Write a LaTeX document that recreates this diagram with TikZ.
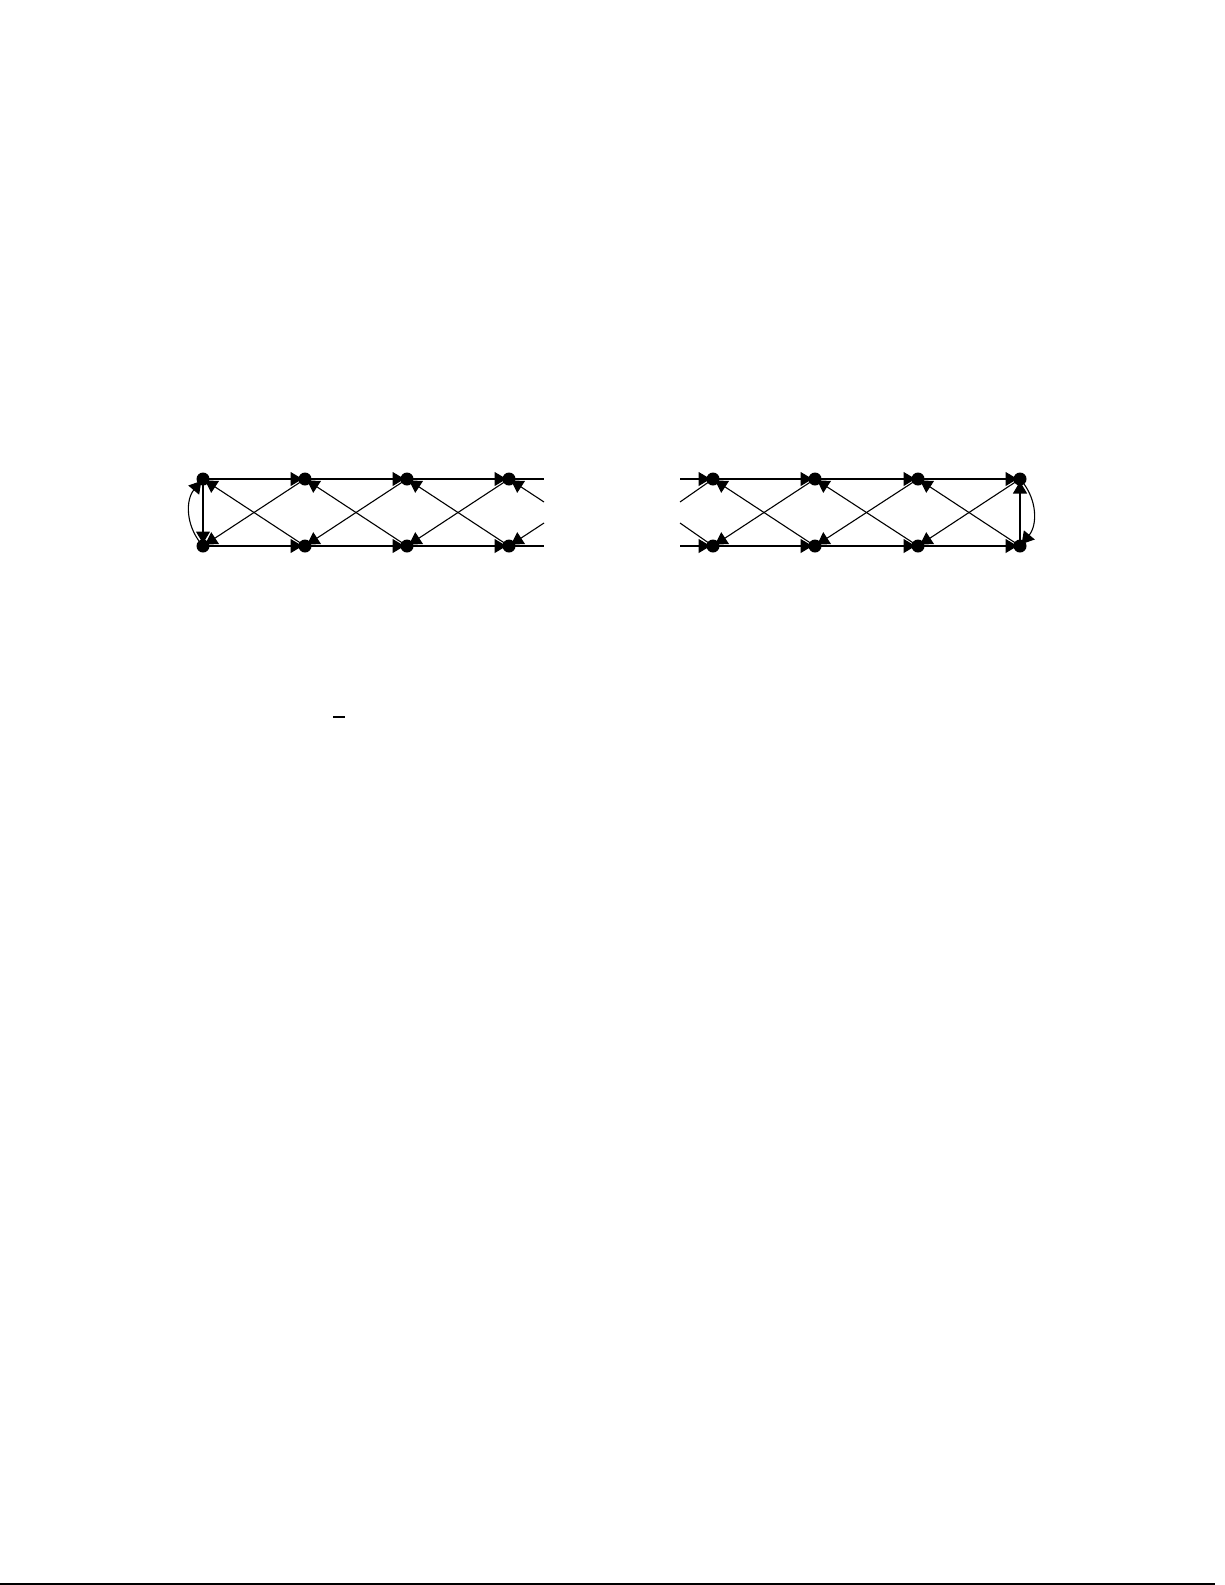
\documentclass[tikz,border=0pt]{standalone}
\usetikzlibrary{arrows.meta}

\tikzset{
  vtx/.style={circle,fill=black,inner sep=0pt,minimum size=6.5pt,outer sep=-2pt},
  arr/.style={-{Triangle[length=6pt,width=7pt]}},
}

\begin{document}
\begin{tikzpicture}[x=0.5pt,y=-0.5pt,line width=0.55pt]
  \useasboundingbox (0,0) rectangle (1225,1585);
  \node[vtx] (lt1) at (203,479) {};
  \node[vtx] (lt2) at (305,479) {};
  \node[vtx] (lt3) at (407,479) {};
  \node[vtx] (lt4) at (509,479) {};
  \node[vtx] (lb1) at (203,546) {};
  \node[vtx] (lb2) at (305,546) {};
  \node[vtx] (lb3) at (407,546) {};
  \node[vtx] (lb4) at (509,546) {};
  \node[vtx] (rt1) at (713,479) {};
  \node[vtx] (rt2) at (815,479) {};
  \node[vtx] (rt3) at (918,479) {};
  \node[vtx] (rt4) at (1020,479) {};
  \node[vtx] (rb1) at (713,546) {};
  \node[vtx] (rb2) at (815,546) {};
  \node[vtx] (rb3) at (918,546) {};
  \node[vtx] (rb4) at (1020,546) {};
  \coordinate (lct) at (544,479);
  \coordinate (lcu) at (544,502);
  \coordinate (lcd) at (544,523);
  \coordinate (lcb) at (544,546);
  \coordinate (rct) at (680,479);
  \coordinate (rcu) at (680,502);
  \coordinate (rcd) at (680,523);
  \coordinate (rcb) at (680,546);
  \coordinate (dasha) at (333,717);
  \coordinate (dashb) at (345,717);
  \coordinate (rulea) at (0,1584);
  \coordinate (ruleb) at (1215,1584);

  \draw[arr] (lt1) -- (lb1);
  \draw[arr] (lb1) to[bend left=40] (lt1);
  \draw[arr] (lt1) -- (lt2);
  \draw[arr] (lt2) -- (lt3);
  \draw[arr] (lt3) -- (lt4);
  \draw (lt4) -- (lct);
  \draw[arr] (lb1) -- (lb2);
  \draw[arr] (lb2) -- (lb3);
  \draw[arr] (lb3) -- (lb4);
  \draw (lb4) -- (lcb);
  \draw[arr] (lb2) -- (lt1);
  \draw[arr] (lt2) -- (lb1);
  \draw[arr] (lb3) -- (lt2);
  \draw[arr] (lt3) -- (lb2);
  \draw[arr] (lb4) -- (lt3);
  \draw[arr] (lt4) -- (lb3);
  \draw[arr] (lcu) -- (lt4);
  \draw[arr] (lcd) -- (lb4);

  \draw[arr] (rct) -- (rt1);
  \draw[arr] (rcb) -- (rb1);
  \draw (rt1) -- (rcu);
  \draw (rb1) -- (rcd);
  \draw[arr] (rt1) -- (rt2);
  \draw[arr] (rt2) -- (rt3);
  \draw[arr] (rt3) -- (rt4);
  \draw[arr] (rb1) -- (rb2);
  \draw[arr] (rb2) -- (rb3);
  \draw[arr] (rb3) -- (rb4);
  \draw[arr] (rb2) -- (rt1);
  \draw[arr] (rt2) -- (rb1);
  \draw[arr] (rb3) -- (rt2);
  \draw[arr] (rt3) -- (rb2);
  \draw[arr] (rb4) -- (rt3);
  \draw[arr] (rt4) -- (rb3);
  \draw[arr] (rb4) -- (rt4);
  \draw[arr] (rt4) to[bend left=40] (rb4);

  \draw (dasha) -- (dashb);
  \draw[line width=0.8pt] (rulea) -- (ruleb);
\end{tikzpicture}
\end{document}
